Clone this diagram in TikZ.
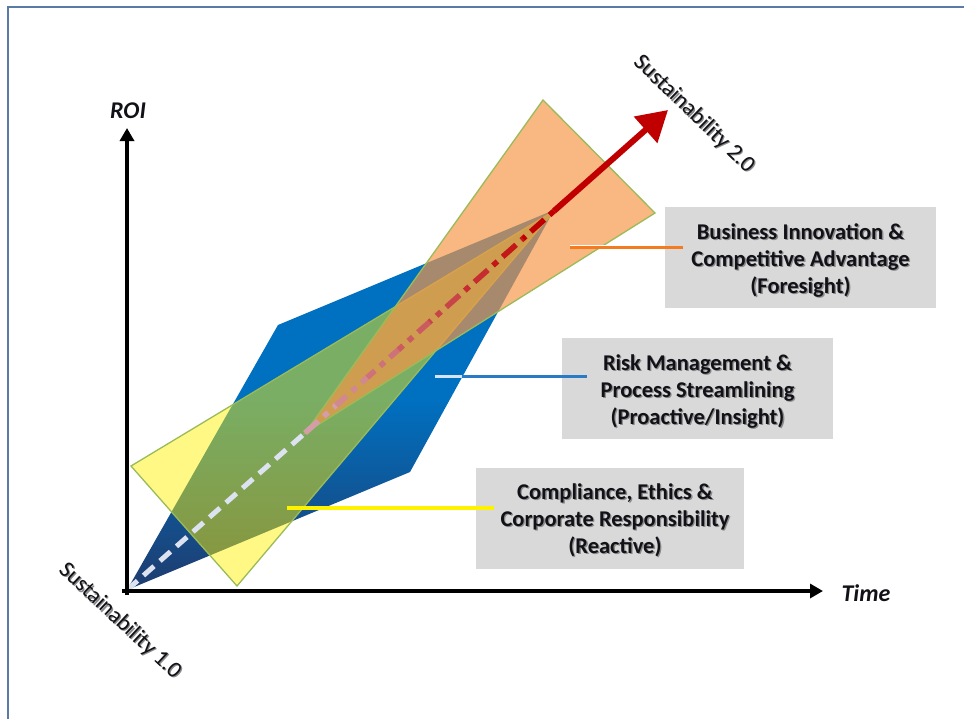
\documentclass[tikz,border=0pt]{standalone}
\usepackage{fontspec}
\setmainfont{Carlito}
\usetikzlibrary{arrows.meta,calc}
\definecolor{bluetop}{HTML}{0070C0}
\definecolor{bluebot}{HTML}{1F3C6E}
\definecolor{olivegreen}{HTML}{9BBB59}
\definecolor{orng}{HTML}{F79646}
\definecolor{redline}{HTML}{C00000}
\definecolor{dashw}{HTML}{DCE2F0}
\definecolor{boxgray}{HTML}{D9D9D9}
\definecolor{framecol}{HTML}{5B7BA6}
\definecolor{leadorange}{HTML}{F47B20}
\definecolor{leadblue}{HTML}{2A7BC6}
\definecolor{txt}{HTML}{111118}
\definecolor{shadowcol}{HTML}{8A8A8A}
\tikzset{
  labelbox/.style={fill=boxgray, minimum width=271pt, minimum height=101pt, inner sep=0pt},
  boxtext/.style={align=center, font=\fontsize{22.5}{27}\selectfont\bfseries, text=txt, inner sep=0pt},
  boxshadow/.style={boxtext, text=shadowcol},
  axisline/.style={line width=4pt, -{Triangle[length=13pt,width=14pt]}},
  leader/.style={line width=3pt},
  tri/.style={draw=olivegreen, line width=1.3pt},
  axislabel/.style={font=\fontsize{24}{28}\selectfont\bfseries\itshape, text=txt},
  sustlabel/.style={font=\fontsize{23}{27}\selectfont, text=txt, inner sep=0pt},
  sustshadow/.style={sustlabel, text=shadowcol}
}
\begin{document}
\begin{tikzpicture}[x=1pt,y=-1pt]
\useasboundingbox (0,0) rectangle (964,718);
\clip (0,0) rectangle (964,718);
\fill[white] (0,0) rectangle (964,718);
\draw[framecol, line width=2.5pt] (8,7) rectangle (990,740);

% key points
\coordinate (O) at (127,590);
\coordinate (L) at (278,325);
\coordinate (P) at (554,210);
\coordinate (Q) at (410,472);
\coordinate (A) at (131,466);
\coordinate (B) at (237,586);
\coordinate (C) at (554,211);
\coordinate (T) at (543,100);
\coordinate (R) at (655,213);
\coordinate (D) at (305,433);
\coordinate (Tip) at (668,110);

% blue parallelogram
\shade[top color=bluetop, bottom color=bluebot, middle color=bluetop]
  (O) -- (L) -- (P) -- (Q) -- cycle;
% yellow triangle
\filldraw[tri, fill=yellow, fill opacity=0.48] (A) -- (B) -- (C) -- cycle;
% orange triangle
\filldraw[tri, fill=orng, fill opacity=0.68] (T) -- (R) -- (D) -- cycle;

% dashed trend line
\draw[dashw, line width=5pt, dash pattern=on 14pt off 8pt] (O) -- (D);
\foreach \i in {0,...,7}{
  \pgfmathsetmacro{\j}{\i+1}
  \pgfmathsetmacro{\p}{30+10*\i}
  \pgfmathsetmacro{\ph}{41.9*\i}
  \draw[redline!\p!dashw, line width=5.5pt, dash pattern=on 18pt off 7pt on 6pt off 7pt, dash phase=\ph pt]
    ($(D)!\i/8!(C)$) -- ($(D)!\j/8!(C)$);
}
\draw[redline, line width=6pt, -{Triangle[length=30pt,width=34pt]}] (C) -- (Tip);

% axes
\coordinate (yb) at (127,595);
\coordinate (yt) at (127,128);
\coordinate (xl) at (122,591);
\coordinate (xr) at (823,591);
\draw[axisline] (yb) -- (yt);
\draw[axisline] (xl) -- (xr);
\node[axislabel] (roi) at (128,111) {ROI};
\node[axislabel] (time) at (866,593) {Time};

% sustainability labels
\node[sustshadow, rotate=-44] (s2s) at (695.2,115.2) {Sustainability 2.0};
\node[sustlabel, rotate=-44] (s2) at (694,114) {Sustainability 2.0};
\node[sustshadow, rotate=-43] (s1s) at (121.2,622.2) {Sustainability 1.0};
\node[sustlabel, rotate=-43] (s1) at (120,621) {Sustainability 1.0};

% label boxes
\node[labelbox] (b1) at (800.5,257) {};
\node[labelbox] (b2) at (697.5,388.5) {};
\node[labelbox, minimum width=268pt] (b3) at (610,518.5) {};
\node[boxshadow] (t1s) at ($(b1.center)+(1.3,4.3)$) {Business Innovation \&\\Competitive Advantage\\(Foresight)};
\node[boxtext] (t1) at ($(b1.center)+(0,3)$) {Business Innovation \&\\Competitive Advantage\\(Foresight)};
\node[boxshadow] (t2s) at ($(b2.center)+(1.3,4.3)$) {Risk Management \&\\Process Streamlining\\(Proactive/Insight)};
\node[boxtext] (t2) at ($(b2.center)+(0,3)$) {Risk Management \&\\Process Streamlining\\(Proactive/Insight)};
\node[boxshadow] (t3s) at ($(b3.center)+(6.3,3.3)$) {Compliance, Ethics \&\\Corporate Responsibility\\(Reactive)};
\node[boxtext] (t3) at ($(b3.center)+(5,2)$) {Compliance, Ethics \&\\Corporate Responsibility\\(Reactive)};

% leaders
\coordinate (lo1) at (570,247);
\coordinate (lo2) at (683,247);
\coordinate (lb1) at (435,376);
\coordinate (lbm) at (462,376);
\coordinate (lb2) at (587,376);
\coordinate (ly1) at (287,508);
\coordinate (ly2) at (494,508);
\draw[leader, leadorange] (lo1) -- (lo2);
\draw[white, line width=1pt] ($(lo1)+(0,-1.5)$) -- ($(lo1)+(65,-1.5)$);
\draw[leader, leadblue!20] (lb1) -- (lbm);
\draw[leader, leadblue] (lbm) -- (lb2);
\draw[leader, yellow, line width=4pt] (ly1) -- (ly2);
\end{tikzpicture}
\end{document}
